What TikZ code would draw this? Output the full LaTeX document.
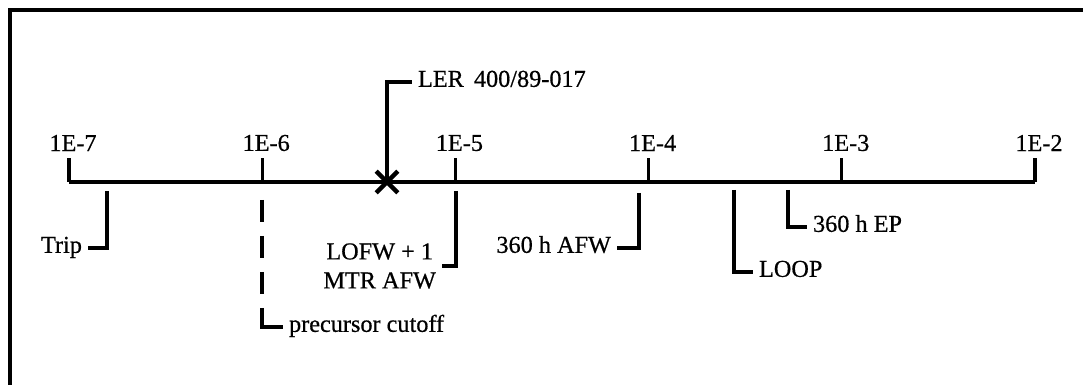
\documentclass[tikz,border=0pt]{standalone}
\usepackage{fontspec}
\setmainfont{Liberation Serif}[FakeBold=0.6]
\usetikzlibrary{shapes.misc}

\tikzset{
  evline/.style={line width=1.9pt},
  evlabel/.style={font=\fontsize{13.8}{16.5}\selectfont, inner sep=2.5pt, text height=1.55ex, text depth=0.35ex},
  ticklabel/.style={font=\fontsize{13.8}{16.5}\selectfont, inner sep=0pt}
}

\begin{document}
\begin{tikzpicture}[x=0.02cm, y=-0.02cm, line width=1.9pt]
	\useasboundingbox (0,0) rectangle (1083,385);
	% Frame
	\draw[line width=2.4pt] (10,390) -- (10,10) -- (1090,10);
	% Decades
	\foreach \i/\e in {0/7,1/6,2/5,3/4,4/3,5/2} {
		\coordinate (tick\i) at ({69+193.2*\i},182);
		\coordinate (top\i) at ({69+193.2*\i},158);
		\node[ticklabel] (lab\i) at ({73+193.2*\i},143) {1E-\e};
		\draw (tick\i) -- (top\i);
	}
	\draw (tick0) -- (tick5);
	% LER event
	\node[cross out, draw, line width=2.6pt, minimum size=0.34cm, inner sep=0pt] (ler) at (387,182) {};
	\node[evlabel, anchor=west] (lerlab) at (412,82) {LER\, 400/89-017};
	\draw[evline] (ler.center) |- (lerlab.west);
	% Events below the axis
	\coordinate (trip) at (107,191);
	\node[evlabel, anchor=east] (triplab) at (88,248) {Trip};
	\draw[evline] (trip) |- (triplab.east);
	\coordinate (cut) at (262,200);
	\coordinate (cutbend) at (262,309);
	\node[evlabel, anchor=west] (cutlab) at (283,327) {precursor cutoff};
	\draw[evline, dash pattern=on 0.44cm off 0.28cm] (cut) -- (cutbend);
	\draw[evline] (cutbend) |- (cutlab.west);
	\coordinate (lofw) at (456,191);
	\node[font=\fontsize{13.8}{16.5}\selectfont, align=center, inner sep=2.5pt, anchor=east] (lofwlab) at (442,266) {LOFW + 1\\MTR AFW};
	\draw[evline] (lofw) |- (lofwlab.east);
	\coordinate (afw) at (639,193);
	\node[evlabel, anchor=east] (afwlab) at (617,248) {360 h AFW};
	\draw[evline] (afw) |- (afwlab.east);
	\coordinate (loop) at (734,190);
	\node[evlabel, anchor=west] (looplab) at (753,272) {LOOP};
	\draw[evline] (loop) |- (looplab.west);
	\coordinate (ep) at (788,190);
	\node[evlabel, anchor=west] (eplab) at (807,227) {360 h EP};
	\draw[evline] (ep) |- (eplab.west);
\end{tikzpicture}
\end{document}
